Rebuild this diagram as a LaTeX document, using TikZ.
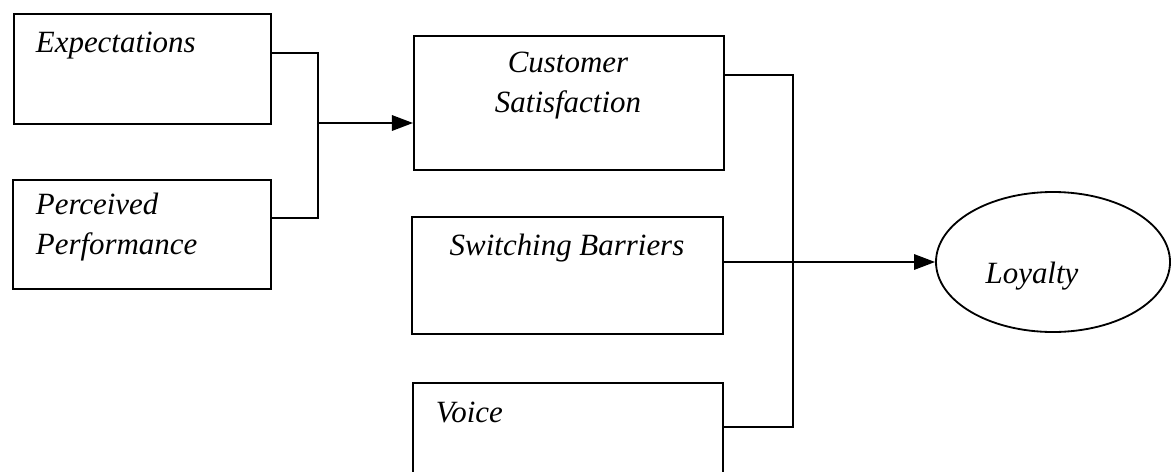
\documentclass[tikz,border=0pt]{standalone}
\usepackage{fontspec}
\setmainfont{Liberation Serif}
\usetikzlibrary{shapes,arrows.meta,positioning}

\begin{document}
\begin{tikzpicture}[font=\itshape\fontsize{22pt}{28pt}\selectfont, line width=1.3pt]
        % Define block styles
        \tikzstyle{block} = [rectangle, draw, anchor=north west, inner sep=0pt]
        \tikzstyle{oval} = [ellipse, draw, minimum width=5.85cm, minimum height=3.5cm, inner sep=0pt]
        \tikzstyle{txt} = [inner sep=0pt]
        \tikzstyle{wire} = [draw]
        \tikzstyle{line} = [draw, -{Triangle[length=15pt,width=11pt]}]

        \useasboundingbox (0,0) rectangle (29.275,-11.775);
        \clip (0,0) rectangle (29.275,-11.775);

        % Nodes
        \node [block, minimum width=6.425cm, minimum height=2.75cm] (Exp) at (0.325,-0.325) {};
        \node [block, minimum width=6.45cm, minimum height=2.725cm] (Perc) at (0.3,-4.475) {};
        \node [block, minimum width=7.75cm, minimum height=3.35cm] (Cust_Sat) at (10.325,-0.875) {};
        \node [block, minimum width=7.775cm, minimum height=2.925cm] (Switch) at (10.275,-5.4) {};
        \node [block, minimum width=7.75cm, minimum height=3.5cm] (Voice) at (10.3,-9.55) {};
        \node [oval] (Loyal) at (26.325,-6.55) {};

        % Texts (base of a two-line node sits on its last line)
        \node [txt, anchor=base west] (Exp_Text) at ([shift={(0.55,-0.975)}]Exp.north west) {Expectations};
        \node [txt, anchor=base west, align=left] (Perc_Text) at ([shift={(0.575,-1.875)}]Perc.north west) {Perceived\\Performance};
        \node [txt, anchor=base, align=center] (Cust_Sat_Text) at ([shift={(3.875,-1.925)}]Cust_Sat.north west) {Customer\\Satisfaction};
        \node [txt, anchor=base] (Switch_Text) at ([shift={(3.9,-0.975)}]Switch.north west) {Switching Barriers};
        \node [txt, anchor=base west] (Voice_Text) at ([shift={(0.575,-1.0)}]Voice.north west) {Voice};
        \node [txt, anchor=base] (Loyal_Text) at ([shift={(-0.525,-0.525)}]Loyal.center) {Loyalty};

        % Junctions
        \coordinate (Join_L) at (7.95,-3.075);
        \coordinate (Join_R) at (19.825,-6.55);

        % Arrows
        \path [wire] ([yshift=0.4cm]Exp.east) -| (Join_L) |- ([yshift=0.41cm]Perc.east);
        \path [line] (Join_L) -- (Join_L -| Cust_Sat.west);
        \path [wire] ([yshift=0.7cm]Cust_Sat.east) -| (Join_R) |- ([yshift=-1.125cm]Voice.north east);
        \path [line] (Switch.east |- Loyal.west) -- (Loyal.west);
    \end{tikzpicture}
\end{document}
